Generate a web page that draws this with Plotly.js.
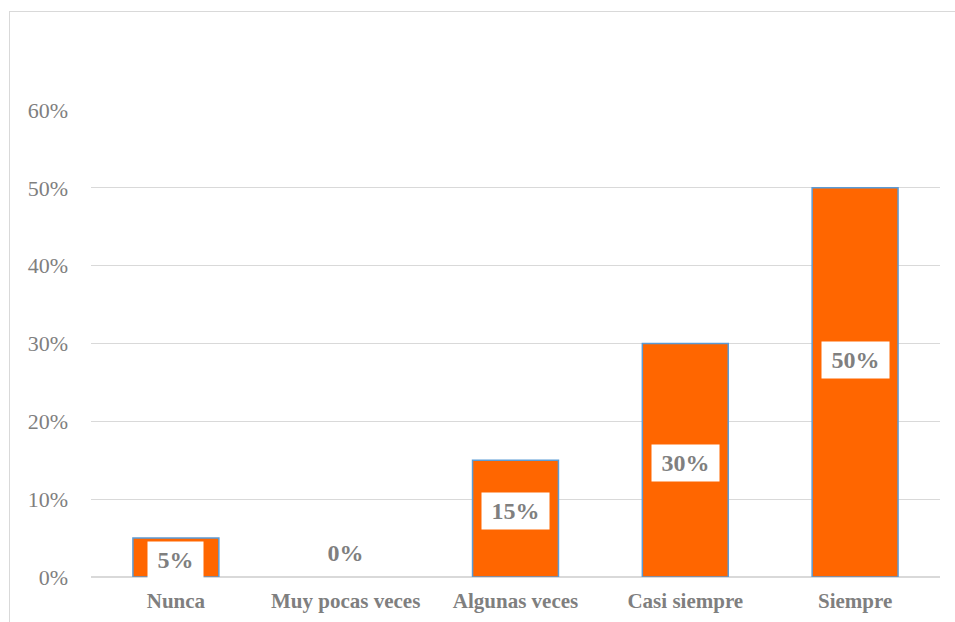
<!DOCTYPE html>
<html>
<head>
<meta charset="utf-8">
<script src="https://cdn.plot.ly/plotly-3.0.1.min.js"></script>
<style>
  html, body { margin: 0; padding: 0; background: #ffffff; }
  #wrap { position: relative; width: 955px; height: 622px; overflow: hidden; }
  #chart { position: absolute; left: 0; top: 0; width: 955px; height: 622px; }
  #frame { position: absolute; left: 9px; top: 11px; width: 1000px; height: 700px;
           border-left: 1.5px solid #d9d9d9; border-top: 1.5px solid #d9d9d9;
           pointer-events: none; }
</style>
</head>
<body>
<div id="wrap">
  <div id="chart"></div>
  <div id="frame"></div>
</div>
<script>
// Frequency of responses
const categories = ['Nunca', 'Muy pocas veces', 'Algunas veces', 'Casi siempre', 'Siempre'];
const shares = [0.05, 0.00, 0.15, 0.30, 0.50];
const valueLabels = ['5%', '0%', '15%', '30%', '50%'];
const yTicks = [0, 0.1, 0.2, 0.3, 0.4, 0.5, 0.6];
const yTickLabels = ['0%', '10%', '20%', '30%', '40%', '50%', '60%'];

// pixel nudges for the boxed value labels
const labelShift = [-2, 24, 8, -3, 22];

const grey = '#7f7f7f';
const serif = '"Liberation Serif", "Times New Roman", serif';

const bars = {
  type: 'bar',
  x: categories,
  y: shares,
  width: 0.506,
  marker: {
    color: '#ff6600',
    line: { color: '#5b9bd5', width: shares.map(v => (v > 0 ? 1.5 : 0)) }
  },
  hoverinfo: 'skip'
};

const annotations = categories.map((c, i) => {
  const hasBox = shares[i] > 0;
  return {
    x: c, y: shares[i] / 2, xref: 'x', yref: 'y',
    yshift: labelShift[i],
    text: '<b>' + valueLabels[i] + '</b>',
    showarrow: false,
    font: { family: serif, size: 24, color: grey },
    bgcolor: hasBox ? '#ffffff' : 'rgba(0,0,0,0)',
    width: 29 + 12 * valueLabels[i].length,
    height: 34,
    borderpad: 1,
    xanchor: 'center', yanchor: 'middle'
  };
});

const layout = {
  width: 955, height: 622,
  margin: { l: 91, r: 15, t: 110, b: 45 },
  paper_bgcolor: '#ffffff',
  plot_bgcolor: '#ffffff',
  showlegend: false,
  bargap: 0.494,
  xaxis: {
    type: 'category',
    showgrid: false, zeroline: false, showline: false,
    ticks: '',
    ticklabelstandoff: 9,
    tickfont: { family: serif, size: 21, color: grey },
    tickprefix: '<b>', ticksuffix: '</b>',
    fixedrange: true
  },
  yaxis: {
    range: [0, 0.6],
    tickvals: yTicks,
    ticktext: yTickLabels,
    showgrid: true, gridcolor: '#d9d9d9', gridwidth: 1.3,
    zeroline: true, zerolinecolor: '#d9d9d9', zerolinewidth: 1.3,
    showline: false, ticks: '',
    ticklabelstandoff: 22,
    tickfont: { family: serif, size: 22, color: grey },
    fixedrange: true
  },
  annotations: annotations
};

Plotly.newPlot('chart', [bars], layout, { displayModeBar: false, staticPlot: true });
</script>
</body>
</html>
